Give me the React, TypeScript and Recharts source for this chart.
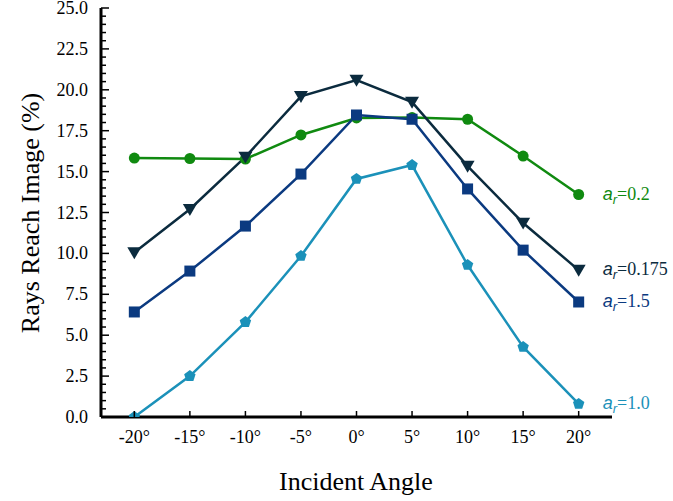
import React from "react";
import { LineChart, Line, XAxis, YAxis, Label } from "recharts";

const angles = [-20, -15, -10, -5, 0, 5, 10, 15, 20];
const xTicks = [-20, -15, -10, -5, 0, 5, 10, 15, 20];
const ar02 = [15.83, 15.8, 15.77, 17.24, 18.28, 18.3, 18.2, 15.95, 13.6];
const ar0175 = [10.05, 12.7, 15.9, 19.6, 20.6, 19.25, 15.34, 11.86, 8.98];
const ar15 = [6.42, 8.92, 11.67, 14.85, 18.46, 18.2, 13.94, 10.2, 7.03];
const ar10 = [0.0, 2.5, 5.8, 9.84, 14.55, 15.4, 9.29, 4.28, 0.8];
const yTicks: number[] = Array.from({ length: 51 }, (_, i) => i * 0.5);

const seriesNames = ["0.2", "0.175", "1.5", "1.0"];
const colors = ["#108a10", "#0b2b3e", "#0b3a80", "#1b91b9"];

const data = angles.map((a, i) => ({
  angle: a,
  s0: ar02[i],
  s1: ar0175[i],
  s2: ar15[i],
  s3: ar10[i],
}));

const SERIF = "Liberation Serif, Times New Roman, serif";
const SANS = "Liberation Sans, Arial, sans-serif";

const YTick = (props: any) => {
  const { x, y, payload } = props;
  const v = payload.value as number;
  const major = Math.abs(v / 2.5 - Math.round(v / 2.5)) < 1e-6;
  const ax = x + 13;
  return (
    <g>
      <line x1={ax} x2={ax + (major ? 8 : 5)} y1={y} y2={y} stroke="#000" strokeWidth={1.5} />
      {major && (
        <text x={x} y={y + 6} textAnchor="end" style={{ fontFamily: SERIF, fontSize: 18 }} fill="#000">
          {v.toFixed(1)}
        </text>
      )}
    </g>
  );
};

const XTick = (props: any) => {
  const { x, y, payload } = props;
  const ay = y - 12;
  return (
    <g>
      <line x1={x} x2={x} y1={ay} y2={ay - 6} stroke="#000" strokeWidth={1.5} />
      <text x={x} y={ay + 26} textAnchor="middle" style={{ fontFamily: SERIF, fontSize: 18 }} fill="#000">
        {`${payload.value}°`}
      </text>
    </g>
  );
};

const makeDot = (shape: string, color: string) => (props: any) => {
  const { cx, cy, index } = props;
  if (cx == null || cy == null) return <g key={index} />;
  if (shape === "circle") {
    return <circle key={index} cx={cx} cy={cy} r={5.5} fill={color} />;
  }
  if (shape === "tri") {
    const s = 7;
    return (
      <polygon
        key={index}
        points={`${cx - s},${cy - s * 0.75} ${cx + s},${cy - s * 0.75} ${cx},${cy + s * 0.95}`}
        fill={color}
      />
    );
  }
  if (shape === "square") {
    return <rect key={index} x={cx - 5.5} y={cy - 5.5} width={11} height={11} fill={color} />;
  }
  const r = 6;
  const pts = Array.from({ length: 5 }, (_, k) => {
    const a = -Math.PI / 2 + (k * 2 * Math.PI) / 5;
    return `${cx + r * Math.cos(a)},${cy + r * Math.sin(a)}`;
  }).join(" ");
  return <polygon key={index} points={pts} fill={color} />;
};

const makeLabel = (name: string, color: string) => (props: any) => {
  const { x, y, index } = props;
  if (index !== angles.length - 1) return null;
  return (
    <text x={x + 24} y={y + 5} fill={color} style={{ fontSize: 18 }}>
      <tspan style={{ fontFamily: SANS, fontStyle: "italic" }}>a</tspan>
      <tspan style={{ fontFamily: SANS, fontStyle: "italic", fontSize: 13 }} dy={4}>r</tspan>
      <tspan style={{ fontFamily: SERIF }} dy={-4}>{`=${name}`}</tspan>
    </text>
  );
};

const shapes = ["circle", "tri", "square", "pent"];

export default function App() {
  return (
    <div style={{ position: "absolute", left: 0, top: 0, width: 673, height: 501, background: "#fff" }}>
      <LineChart
        width={673}
        height={501}
        data={data}
        margin={{ top: 8, right: 61, bottom: 0, left: 0 }}
      >
        <XAxis
          dataKey="angle"
          type="number"
          domain={[-23, 23]}
          ticks={xTicks}
          height={84}
          tickSize={0}
          tickMargin={12}
          tick={<XTick />}
          axisLine={{ stroke: "#000", strokeWidth: 3 }}
          tickLine={false}
          interval={0}
          allowDataOverflow
        >
          <Label
            content={() => (
              <text x={356} y={490} textAnchor="middle" style={{ fontFamily: SERIF, fontSize: 26 }} fill="#000">
                Incident Angle
              </text>
            )}
          />
        </XAxis>
        <YAxis
          type="number"
          domain={[0, 25]}
          ticks={yTicks}
          width={101}
          tickSize={0}
          tickMargin={13}
          tick={<YTick />}
          axisLine={{ stroke: "#000", strokeWidth: 3 }}
          tickLine={false}
          interval={0}
          allowDataOverflow
        >
          <Label
            content={() => (
              <text
                x={30}
                y={213}
                transform="rotate(-90 30 213)"
                textAnchor="middle"
                dominantBaseline="central"
                style={{ fontFamily: SERIF, fontSize: 26 }}
                fill="#000"
              >
                Rays Reach Image (%)
              </text>
            )}
          />
        </YAxis>
        {["s0", "s1", "s2", "s3"].map((k, i) => (
          <Line
            key={k}
            dataKey={k}
            stroke={colors[i]}
            strokeWidth={2.5}
            dot={makeDot(shapes[i], colors[i])}
            activeDot={false}
            label={makeLabel(seriesNames[i], colors[i])}
            isAnimationActive={false}
          />
        ))}
      </LineChart>
    </div>
  );
}
